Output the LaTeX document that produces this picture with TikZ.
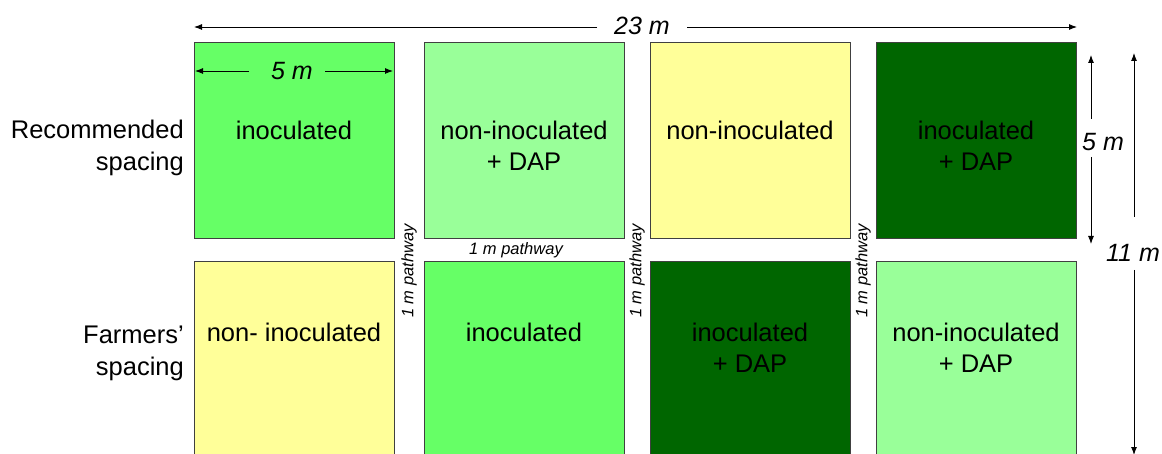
\documentclass[tikz,border=0pt]{standalone}
\usepackage{fontspec}
\setmainfont{Liberation Sans}
\usetikzlibrary{arrows.meta}
\definecolor{gMid}{HTML}{66FF66}
\definecolor{gLight}{HTML}{99FF99}
\definecolor{gYel}{HTML}{FFFF99}
\definecolor{gDark}{HTML}{006600}
\definecolor{edgeGray}{HTML}{404040}
\begin{document}
\begin{tikzpicture}[x=1pt,y=-1pt,
  plotbox/.style={draw=edgeGray, line width=1pt, minimum width=200pt, minimum height=196pt, inner sep=0pt},
  boxtext/.style={font=\fontsize{25.5}{31}\selectfont, align=center, anchor=north, inner sep=0pt},
  rowlab/.style={font=\fontsize{25.5}{32}\selectfont, align=right, anchor=east, inner sep=0pt},
  dimtext/.style={font=\fontsize{25}{28}\selectfont\itshape, inner sep=0pt},
  pathlab/.style={font=\fontsize{16.5}{18}\selectfont\itshape, inner sep=0pt},
  dimline/.style={line width=0.9pt, -{Latex[length=8pt,width=6pt]}}
]
\useasboundingbox (0,0) rectangle (1162,454);
\clip (0,0) rectangle (1162,454);
% top row
\node[plotbox, fill=gMid]   (a1) at (294,141) {};
\node[plotbox, fill=gLight] (a2) at (524,141) {};
\node[plotbox, fill=gYel]   (a3) at (750,141) {};
\node[plotbox, fill=gDark]  (a4) at (976,141) {};
% bottom row
\node[plotbox, fill=gYel]   (b1) at (294,360) {};
\node[plotbox, fill=gMid]   (b2) at (524,360) {};
\node[plotbox, fill=gDark]  (b3) at (750,360) {};
\node[plotbox, fill=gLight] (b4) at (976,360) {};
% box texts
\node[boxtext] (ta1) at (294,121) {inoculated};
\node[boxtext] (ta2) at (524,121) {non-inoculated\\+ DAP};
\node[boxtext] (ta3) at (750,121) {non-inoculated};
\node[boxtext] (ta4) at (976,121) {inoculated\\+ DAP};
\node[boxtext] (tb1) at (294,323) {non- inoculated};
\node[boxtext] (tb2) at (524,323) {inoculated};
\node[boxtext] (tb3) at (750,323) {inoculated\\+ DAP};
\node[boxtext] (tb4) at (976,323) {non-inoculated\\+ DAP};
% row labels
\node[rowlab] (r1) at (184,148) {Recommended\\spacing};
\node[rowlab] (r2) at (184,353) {Farmers'\\spacing};
% pathways
\node[pathlab, rotate=90] (p1) at (409,271) {1 m pathway};
\node[pathlab, rotate=90] (p2) at (637,271) {1 m pathway};
\node[pathlab, rotate=90] (p3) at (863,271) {1 m pathway};
\node[pathlab] (p4) at (516,250) {1 m pathway};
% 23 m
\node[dimtext] (d23) at (642,26) {23 m};
\coordinate (d23l) at (194,27);
\coordinate (d23r) at (1077,27);
\coordinate (d23la) at (597,27);
\coordinate (d23ra) at (687,27);
\draw[dimline] (d23la) -- (d23l);
\draw[dimline] (d23ra) -- (d23r);
% 5 m horizontal
\node[dimtext] (d5h) at (292,71) {5 m};
\coordinate (d5hl) at (195,71);
\coordinate (d5hr) at (393,71);
\coordinate (d5hla) at (249,71);
\coordinate (d5hra) at (325,71);
\draw[dimline] (d5hla) -- (d5hl);
\draw[dimline] (d5hra) -- (d5hr);
% 5 m vertical
\node[dimtext] (d5v) at (1103,142) {5 m};
\coordinate (d5vt) at (1091,55);
\coordinate (d5vb) at (1091,244);
\coordinate (d5vta) at (1091,119);
\coordinate (d5vba) at (1091,157);
\draw[dimline] (d5vta) -- (d5vt);
\draw[dimline] (d5vba) -- (d5vb);
% 11 m
\node[dimtext] (d11) at (1133,253) {11 m};
\coordinate (d11t) at (1134,53);
\coordinate (d11b) at (1134,455);
\coordinate (d11ta) at (1134,217);
\coordinate (d11ba) at (1134,270);
\draw[dimline] (d11ta) -- (d11t);
\draw[dimline] (d11ba) -- (d11b);
\end{tikzpicture}
\end{document}
